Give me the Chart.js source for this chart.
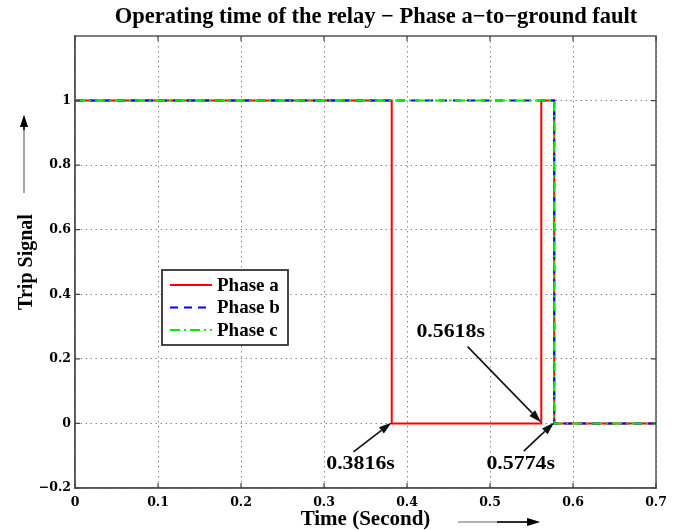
<!DOCTYPE html>
<html><head><meta charset="utf-8">
<script src="https://cdn.jsdelivr.net/npm/chart.js@4"></script>
<style>html,body{margin:0;padding:0;background:#fff}#wrap{width:676px;height:530px;position:relative}</style>
</head><body><div id="wrap"><canvas id="c"></canvas></div>
<script>
// ---- data ----
const phaseATime   = [0, 0.3816, 0.3816, 0.5618, 0.5618, 0.5774, 0.5774, 0.7];
const phaseASignal = [1, 1, 0, 0, 1, 1, 0, 0];
const phaseBTime   = [0, 0.5774, 0.5774, 0.7];
const phaseBSignal = [1, 1, 0, 0];
const phaseCTime   = [0, 0.5774, 0.5774, 0.7];
const phaseCSignal = [1, 1, 0, 0];
const seriesNames  = ['Phase a', 'Phase b', 'Phase c'];
const xTickValues  = [0, 0.1, 0.2, 0.3, 0.4, 0.5, 0.6, 0.7];
const yTickValues  = [-0.2, 0, 0.2, 0.4, 0.6, 0.8, 1];
const eventTimes   = [0.3816, 0.5618, 0.5774];
const eventLabels  = ['0.3816s', '0.5618s', '0.5774s'];
const chartTitle   = 'Operating time of the relay \u2212 Phase a\u2212to\u2212ground fault';
const xAxisTitle   = 'Time (Second)';
const yAxisTitle   = 'Trip Signal';

// ---- styling / layout (not data) ----
const SERIF = "'Liberation Serif', 'DejaVu Serif', serif";
const WIDE_SERIF = "'DejaVu Serif', 'Liberation Serif', serif";
const annotLayout = [ // text position and arrow tail in data units
  {text: [0.344, -0.127], tail: [0.3355, -0.088]},
  {text: [0.4526, 0.283], tail: [0.473, 0.238]},
  {text: [0.537, -0.127], tail: [0.5407, -0.086]}
];

const toPts = (xs, ys) => xs.map((x, i) => ({x: x, y: ys[i]}));
const fmt = v => { const r = Math.round(v * 10) / 10; return r < 0 ? '\u2212' + Math.abs(r) : String(r); };

function arrow(ctx, x1, y1, x2, y2, color, lw, hl, hw) {
  const a = Math.atan2(y2 - y1, x2 - x1);
  const bx = x2 - hl * Math.cos(a), by = y2 - hl * Math.sin(a);
  ctx.save();
  ctx.strokeStyle = color; ctx.fillStyle = color; ctx.lineWidth = lw;
  ctx.beginPath(); ctx.moveTo(x1, y1); ctx.lineTo(bx, by); ctx.stroke();
  ctx.beginPath();
  ctx.moveTo(x2, y2);
  ctx.lineTo(bx + hw / 2 * Math.sin(a), by - hw / 2 * Math.cos(a));
  ctx.lineTo(bx - hw / 2 * Math.sin(a), by + hw / 2 * Math.cos(a));
  ctx.closePath(); ctx.fill();
  ctx.restore();
}

function stretchedText(ctx, txt, x, y, sx) {
  ctx.save();
  ctx.translate(x, y); ctx.scale(sx, 1);
  ctx.fillText(txt, 0, 0);
  ctx.restore();
}

const framePlugin = {
  id: 'frame',
  afterDraw(chart) {
    const {ctx, chartArea: a, scales: {x, y}} = chart;
    ctx.save();
    // title
    ctx.fillStyle = '#000';
    ctx.font = 'bold 22.5px ' + SERIF;
    ctx.textAlign = 'center'; ctx.textBaseline = 'middle';
    ctx.fillText(chartTitle, 376, 17);

    // box
    ctx.strokeStyle = '#555'; ctx.lineWidth = 1.5; ctx.setLineDash([]);
    ctx.strokeRect(a.left, a.top, a.right - a.left, a.bottom - a.top);
    // inward ticks
    ctx.lineWidth = 1.2; ctx.strokeStyle = '#444';
    ctx.beginPath();
    xTickValues.forEach(v => {
      const px = x.getPixelForValue(v);
      ctx.moveTo(px, a.bottom); ctx.lineTo(px, a.bottom - 5);
      ctx.moveTo(px, a.top); ctx.lineTo(px, a.top + 5);
    });
    yTickValues.forEach(v => {
      const py = y.getPixelForValue(v);
      ctx.moveTo(a.left, py); ctx.lineTo(a.left + 5, py);
      ctx.moveTo(a.right, py); ctx.lineTo(a.right - 5, py);
    });
    ctx.stroke();

    // annotations
    ctx.fillStyle = '#000';
    ctx.font = 'bold 19.5px ' + SERIF;
    ctx.textAlign = 'center'; ctx.textBaseline = 'middle';
    eventTimes.forEach((t, i) => {
      const L = annotLayout[i];
      const hx = x.getPixelForValue(t), hy = y.getPixelForValue(0);
      const tx = x.getPixelForValue(L.tail[0]), ty = y.getPixelForValue(L.tail[1]);
      arrow(ctx, tx, ty, hx, hy - 1, '#111', 1.6, 13, 8);
      stretchedText(ctx, eventLabels[i], x.getPixelForValue(L.text[0]), y.getPixelForValue(L.text[1]), 1.12);
    });

    // legend box
    const lx = a.left + 87, ly = a.top + 234, lw = 126, lh = 75;
    ctx.fillStyle = '#fff';
    ctx.fillRect(lx, ly, lw, lh);
    ctx.strokeStyle = '#333'; ctx.lineWidth = 1.8;
    ctx.strokeRect(lx, ly, lw, lh);
    chart.data.datasets.forEach((ds, i) => {
      const ey = ly + 15 + i * 22.5;
      ctx.save();
      ctx.strokeStyle = ds.borderColor; ctx.lineWidth = 2;
      ctx.setLineDash(ds.borderDash || []);
      ctx.beginPath(); ctx.moveTo(lx + 8, ey); ctx.lineTo(lx + 50, ey); ctx.stroke();
      ctx.restore();
      ctx.fillStyle = '#000'; ctx.textAlign = 'left'; ctx.textBaseline = 'middle';
      ctx.font = 'bold 19px ' + SERIF;
      ctx.fillText(ds.label, lx + 55, ey + 1);
    });

    // axis-title arrows
    arrow(ctx, 24, 193, 24, 115, '#888', 1.5, 12, 8);
    arrow(ctx, 24, 130, 24, 115, '#000', 1.5, 12, 8);
    arrow(ctx, 458, 522, 540, 522, '#999', 1.5, 13, 8);
    arrow(ctx, 497, 522, 540, 522, '#000', 1.5, 13, 8);
    ctx.restore();
  }
};

new Chart(document.getElementById('c'), {
  type: 'line',
  data: {
    datasets: [
      {label: seriesNames[0], data: toPts(phaseATime, phaseASignal), borderColor: '#ff0000', borderWidth: 2, order: 3},
      {label: seriesNames[1], data: toPts(phaseBTime, phaseBSignal), borderColor: '#0000ff', borderWidth: 2, borderDash: [8, 6], order: 2},
      {label: seriesNames[2], data: toPts(phaseCTime, phaseCSignal), borderColor: '#00ee00', borderWidth: 2, borderDash: [10, 4, 2, 4], order: 1}
    ]
  },
  options: {
    responsive: true, maintainAspectRatio: false, animation: false,
    elements: {point: {radius: 0}, line: {tension: 0, fill: false}},
    layout: {padding: {left: 0, right: 20, top: 36, bottom: 0}},
    plugins: {
      legend: {display: false}, tooltip: {enabled: false}, title: {display: false}
    },
    scales: {
      x: {
        type: 'linear', min: 0, max: 0.7,
        afterBuildTicks: s => { s.ticks = xTickValues.map(v => ({value: v})); },
        afterFit: s => { s.height = 42; },
        ticks: {callback: v => fmt(v), color: '#000', padding: 7, maxRotation: 0,
          font: {family: WIDE_SERIF, size: 12.5, weight: 'bold'}},
        grid: {color: '#888', lineWidth: 1, drawTicks: false},
        border: {display: true, color: '#555', width: 1.5, dash: [1.5, 3.5]},
        title: {display: true, text: xAxisTitle, color: '#000', padding: {top: 0, bottom: 0},
          font: {family: SERIF, size: 21, weight: 'bold', lineHeight: 1}}
      },
      y: {
        type: 'linear', min: -0.2, max: 1.2,
        afterBuildTicks: s => { s.ticks = yTickValues.map(v => ({value: v})); },
        afterFit: s => { s.width = 75; },
        ticks: {callback: v => fmt(v), color: '#000', padding: 4,
          font: {family: WIDE_SERIF, size: 12.5, weight: 'bold'}},
        grid: {color: '#888', lineWidth: 1, drawTicks: false},
        border: {display: true, color: '#555', width: 1.5, dash: [1.5, 3.5]},
        title: {display: true, text: yAxisTitle, color: '#000', padding: {top: 15, bottom: 0},
          font: {family: SERIF, size: 20, weight: 'bold'}}
      }
    }
  },
  plugins: [framePlugin]
});
</script>
</body></html>
